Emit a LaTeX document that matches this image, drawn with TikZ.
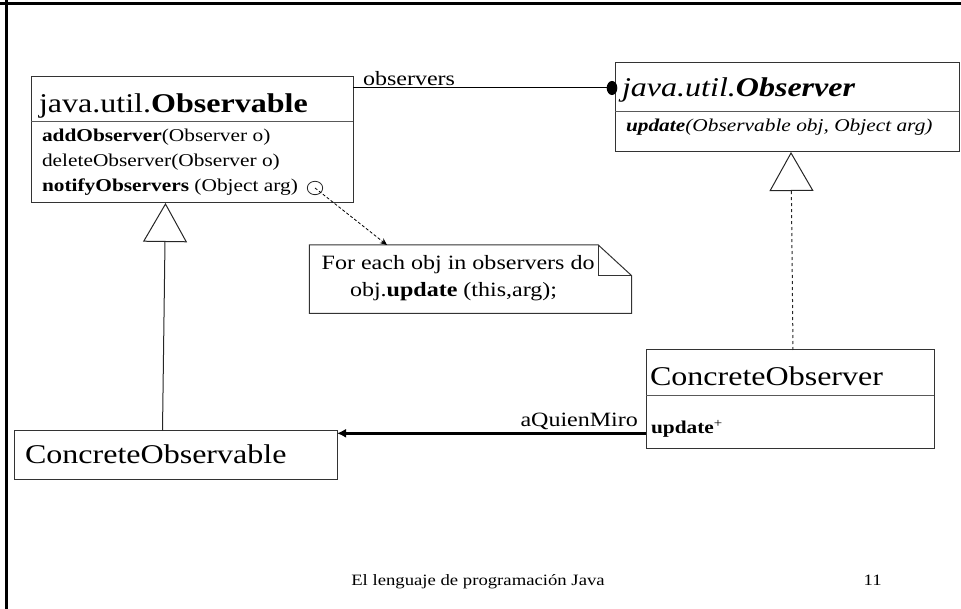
\documentclass[tikz,border=0pt]{standalone}
\usepackage{fontspec}
\setmainfont{Liberation Serif}[FakeStretch=1.1835]
\usetikzlibrary{arrows.meta,shapes.geometric}

\newcommand\fsTitle{\fontsize{27.07pt}{30pt}\selectfont}
\newcommand\fsMeth{\fontsize{18.05pt}{21pt}\selectfont}
\newcommand\fsNote{\fontsize{20.3pt}{23pt}\selectfont}
\newcommand\fsFoot{\fontsize{15.8pt}{18pt}\selectfont}

\begin{document}
\begin{tikzpicture}[x=1pt,y=-1pt,
  cls/.style={draw=black!80, line width=1pt, inner sep=0pt, outer sep=0pt, anchor=north west},
  txt/.style={inner sep=0pt, outer sep=0pt, anchor=base west},
  rule/.style={draw=black!65, line width=1pt},
  frame/.style={line width=3.5pt, black},
  gen/.style={draw=black!85, line width=1pt, -{Triangle[open, length=39pt, width=44pt]}},
  real/.style={gen, dash pattern=on 3pt off 3pt},
  assoc/.style={draw=black, line width=1pt, -{Ellipse[length=10.6pt, width=14pt]}, shorten >=-2.3pt},
  dep/.style={draw=black, line width=0.8pt, dash pattern=on 3pt off 2pt, -{Stealth[length=7pt, width=6pt]}},
  nav/.style={draw=black, line width=2.5pt, -{Latex[length=9pt, width=9pt]}},
  notebox/.style={draw=black!80, line width=1pt}
]
\useasboundingbox (0,0) rectangle (961,609);

% slide frame
\draw[frame] (0,3.5) -- (961,3.5);
\draw[frame, line width=3pt] (6,0) -- (6,609);

% java.util.Observable
\node[cls, minimum width=322pt, minimum height=126pt] (obs) at (31,77) {};
\draw[rule] (31,122) -- (353,122);
\node[txt, font=\fsTitle] (obst) at (39,113) {java.util.\textbf{Observable}};
\node[txt, font=\fsMeth] (m1) at (42,141.5) {\textbf{addObserver}(Observer o)};
\node[txt, font=\fsMeth] (m2) at (42,166.5) {deleteObserver(Observer o)};
\node[txt, font=\fsMeth] (m3) at (42,191.5) {\textbf{notifyObservers} (Object arg)};
\node[ellipse, draw=black!85, line width=0.8pt, minimum width=15.4pt, minimum height=13.4pt, inner sep=0pt] (anc) at (315,188) {};

% java.util.Observer
\node[cls, minimum width=344pt, minimum height=89pt] (obsv) at (615,63) {};
\draw[rule] (615,112) -- (959,112);
\node[txt, font=\fsTitle] (obsvt) at (622,97) {\textit{java.util.}\textbf{\textit{Observer}}};
\node[txt, font=\fsMeth] (um) at (626,131.5) {\textit{\textbf{update}(Observable obj, Object arg)}};

% association observers
\draw[assoc] (obs.east |- 0,88) -- (obsv.west |- 0,88);
\node[txt, font=\fsNote] (lobs) at (363,86) {observers};

% note
\node[inner sep=0pt, outer sep=0pt, anchor=north west, minimum width=322.4pt, minimum height=68.3pt] (note) at (309.3,245) {};
\draw[notebox] (note.north west) -- (598.3,245) -- (631.7,275.7) -- (note.south east) -- (note.south west) -- cycle;
\draw[notebox] (598.3,245) -- (598.3,275.7) -- (631.7,275.7);
\node[txt, font=\fsNote] (n1) at (321.7,270) {For each obj in observers do};
\node[txt, font=\fsNote] (n2) at (350,296.7) {obj.\textbf{update} (this,arg);};
\draw[dep] (anc.center) -- (note.north -| 387,0);

% ConcreteObservable
\node[cls, minimum width=322.7pt, minimum height=48.3pt] (cobl) at (14.3,430.7) {};
\node[txt, font=\fsTitle] (coblt) at (25,463.3) {ConcreteObservable};
\draw[gen] (cobl.north -| 162.5,0) -- (obs.south -| 165.5,0);

% ConcreteObserver
\node[cls, minimum width=288pt, minimum height=98pt] (cobs) at (646,350) {};
\draw[rule] (646,396) -- (934,396);
\node[txt, font=\fsTitle] (cobst) at (650,385) {ConcreteObserver};
\node[txt, font=\fsMeth] (cobsm) at (651,433.3) {\textbf{update}\textsuperscript{+}};
\draw[real] (cobs.north -| 793,0) -- (obsv.south -| 791,0);

% navigable association
\draw[nav] (cobs.west |- 0,433.3) -- (cobl.east |- 0,433.3);
\node[txt, font=\fsNote] (laq) at (520.5,426.7) {aQuienMiro};

% footer
\node[inner sep=0pt, anchor=base, font=\fsFoot] (foot) at (478,585) {El lenguaje de programación Java};
\node[txt, font=\fsFoot] (pg) at (863.6,585) {11};
\end{tikzpicture}
\end{document}
